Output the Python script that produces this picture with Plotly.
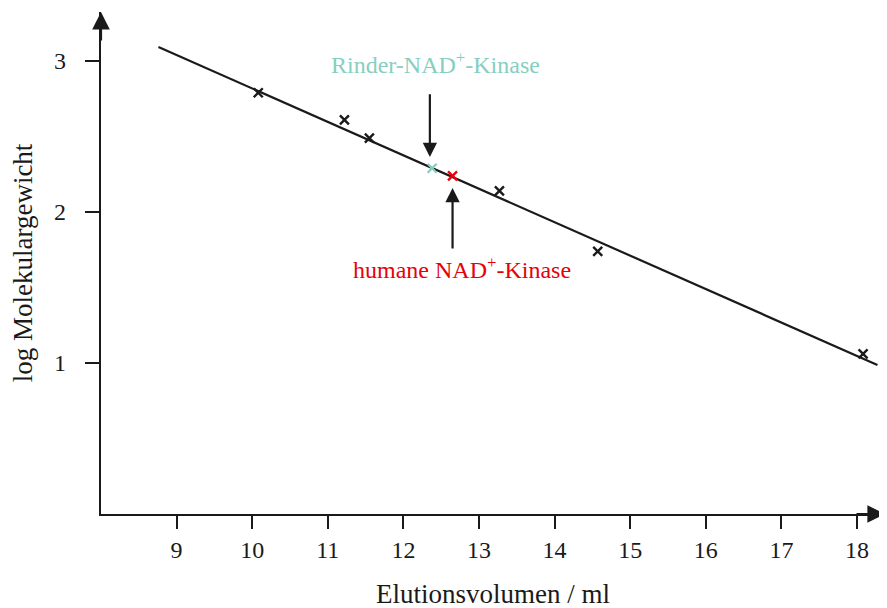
import plotly.graph_objects as go

# --- Daten ---
elution_ml = [10.08, 11.22, 11.55, 13.27, 14.57, 18.08]
log_mw = [2.79, 2.61, 2.49, 2.14, 1.74, 1.06]

rind_x, rind_y = [12.38], [2.29]
human_x, human_y = [12.65], [2.24]

fit_x = [8.76, 18.27]
fit_y = [3.093, 0.987]

x_ticks = [9, 10, 11, 12, 13, 14, 15, 16, 17, 18]
y_ticks = [1, 2, 3]

FONT = "Liberation Serif, Times New Roman, serif"
BLACK = "#1a1a1a"
CYAN = "#86cfc0"
RED = "#e8000b"

x_range = [8.0, 18.37]
y_range = [0, 3.325]

fig = go.Figure()

# Ausgleichsgerade
fig.add_trace(go.Scatter(x=fit_x, y=fit_y, mode="lines",
                         line=dict(color=BLACK, width=2.2), showlegend=False))


def kreuze(x, y, farbe):
    return go.Scatter(x=x, y=y, mode="markers", showlegend=False,
                      marker=dict(symbol="x-thin", size=9, color=farbe,
                                  line=dict(width=2.4, color=farbe)))


fig.add_trace(kreuze(elution_ml, log_mw, BLACK))
fig.add_trace(kreuze(rind_x, rind_y, CYAN))
fig.add_trace(kreuze(human_x, human_y, RED))

# Beschriftungen mit Pfeilen
fig.add_annotation(x=12.35, y=2.364, ax=12.35, ay=2.79, xref="x", yref="y",
                   axref="x", ayref="y", text="", showarrow=True,
                   arrowhead=2, arrowsize=1.3, arrowwidth=2.2, arrowcolor=BLACK)
fig.add_annotation(x=12.65, y=2.159, ax=12.65, ay=1.748, xref="x", yref="y",
                   axref="x", ayref="y", text="", showarrow=True,
                   arrowhead=2, arrowsize=1.3, arrowwidth=2.2, arrowcolor=BLACK)
fig.add_annotation(x=12.43, y=2.99, text="Rinder-NAD<sup>+</sup>-Kinase",
                   showarrow=False, font=dict(family=FONT, size=24, color=CYAN))
fig.add_annotation(x=12.78, y=1.63, text="humane NAD<sup>+</sup>-Kinase",
                   showarrow=False, font=dict(family=FONT, size=24, color=RED))

# Pfeilspitzen der Achsen
fig.add_annotation(x=x_range[0], y=y_range[1], ax=0, ay=30, xref="x", yref="y",
                   text="", showarrow=True, arrowhead=2, arrowsize=1.6,
                   arrowwidth=2.2, arrowcolor=BLACK)
fig.add_annotation(x=x_range[1], y=y_range[0], ax=-30, ay=0, xref="x", yref="y",
                   text="", showarrow=True, arrowhead=2, arrowsize=1.6,
                   arrowwidth=2.2, arrowcolor=BLACK)

# die Seite hat 8 px Rand, daher verschobene Ränder
fig.update_layout(
    width=887, height=608,
    margin=dict(l=93, r=10, t=4, b=102),
    plot_bgcolor="white", paper_bgcolor="white",
    font=dict(family=FONT, size=24, color=BLACK),
    xaxis=dict(range=x_range, tickvals=x_ticks, showgrid=False, zeroline=False,
               automargin=False,
               showline=True, linecolor=BLACK, linewidth=2.2,
               ticks="outside", ticklen=13, tickwidth=2.2, tickcolor=BLACK,
               tickfont=dict(family=FONT, size=24), ticklabelstandoff=0,
               title=dict(text="Elutionsvolumen / ml", standoff=22,
                          font=dict(family=FONT, size=27))),
    yaxis=dict(range=y_range, tickvals=y_ticks, showgrid=False, zeroline=False,
               automargin=False,
               showline=True, linecolor=BLACK, linewidth=2.2,
               ticks="outside", ticklen=14, tickwidth=2.2, tickcolor=BLACK,
               tickfont=dict(family=FONT, size=24), ticklabelstandoff=14,
               title=dict(text="log Molekulargewicht", standoff=19,
                          font=dict(family=FONT, size=27))),
)

fig.write_html("out.html")
